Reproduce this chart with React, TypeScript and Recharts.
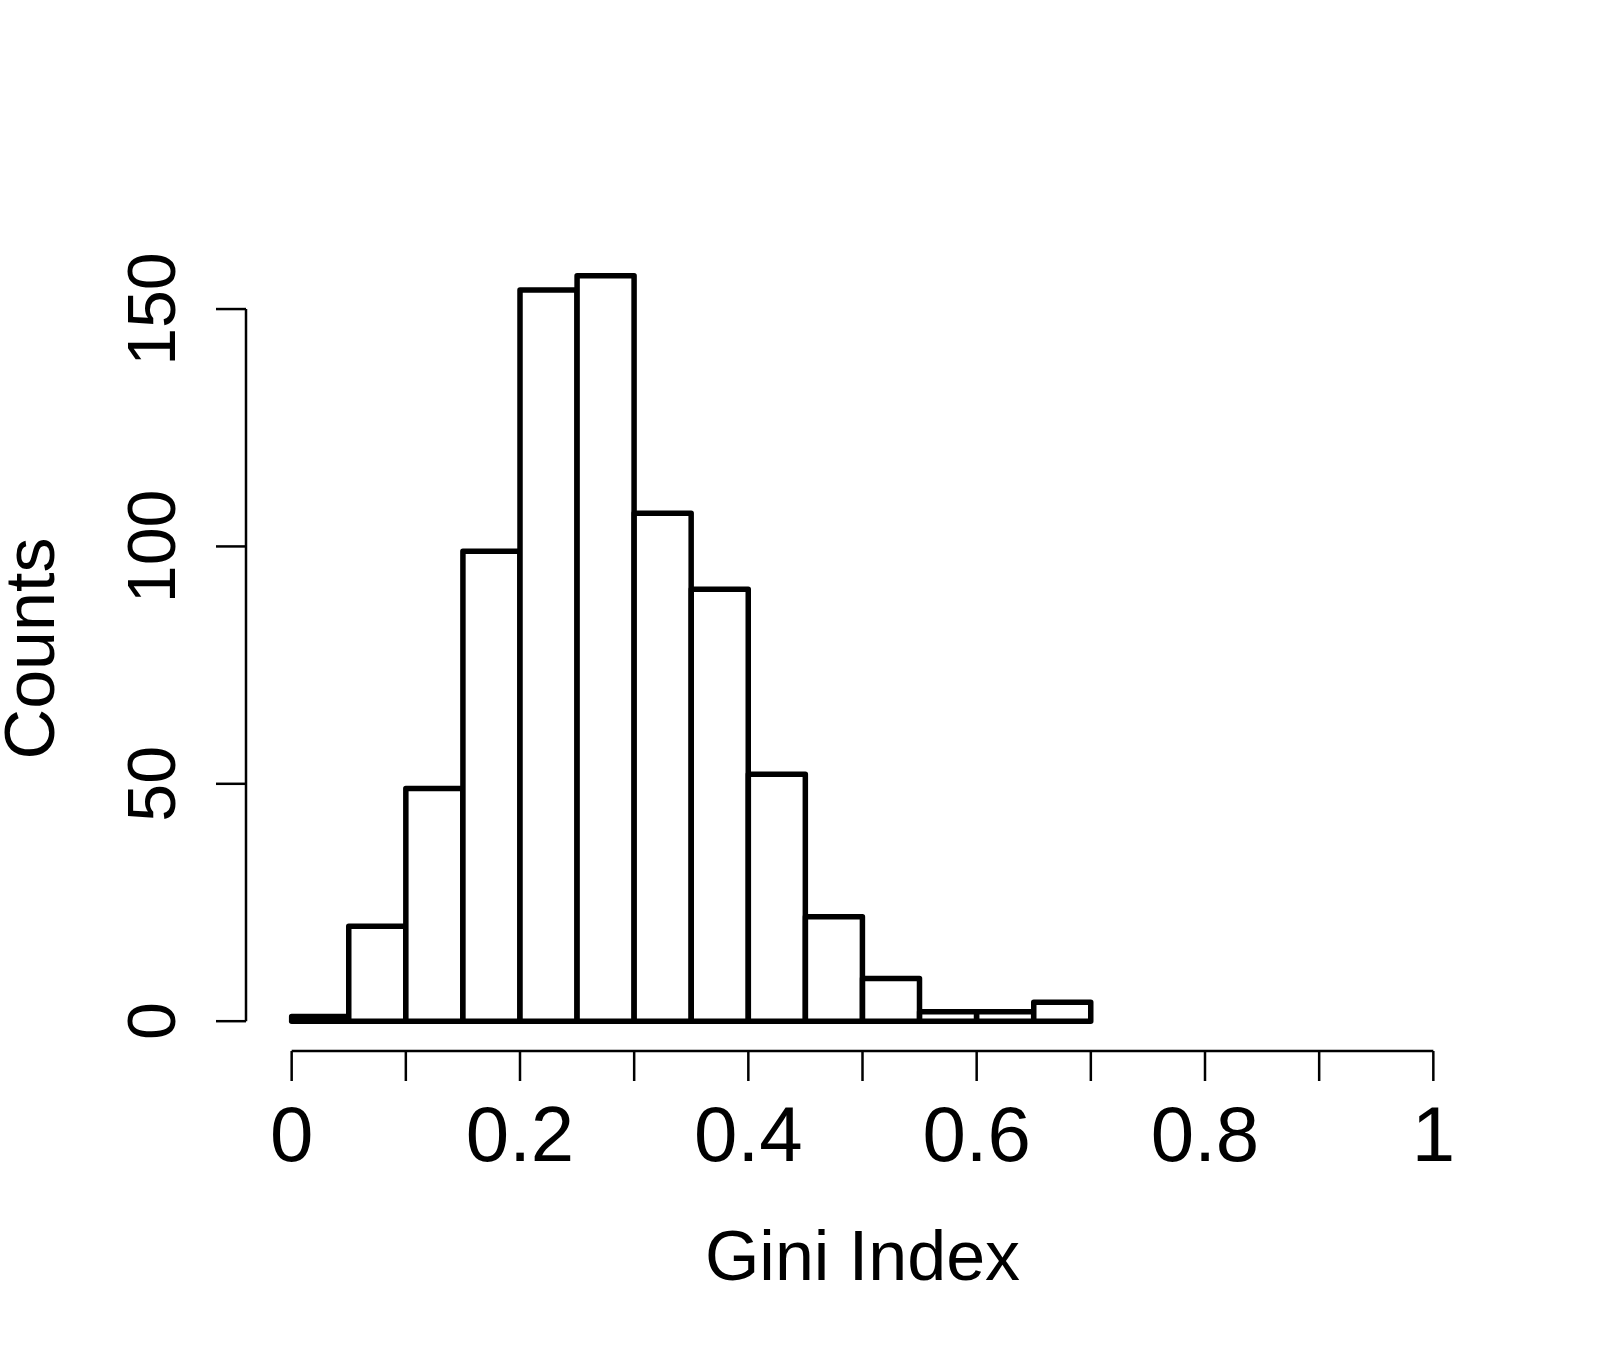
import { BarChart, Bar, XAxis, YAxis, ReferenceLine } from "recharts"

// histogram of the Gini index, bins of width 0.05
const binMids = [0.025, 0.075, 0.125, 0.175, 0.225, 0.275, 0.325, 0.375, 0.425, 0.475, 0.525, 0.575, 0.625, 0.675]
const counts = [1, 20, 49, 99, 154, 157, 107, 91, 52, 22, 9, 2, 2, 4]

const xTicks = [0, 0.1, 0.2, 0.3, 0.4, 0.5, 0.6, 0.7, 0.8, 0.9, 1]
const xTickLabels = ["0", "", "0.2", "", "0.4", "", "0.6", "", "0.8", "", "1"]
const yTicks = [0, 50, 100, 150]
const yTickLabels = ["0", "50", "100", "150"]

const data = binMids.map((mid, i) => ({ mid, count: counts[i] }))

// R pads the plot region by 4% on each side
const xPad = 0.04 * (xTicks[xTicks.length - 1] - xTicks[0])
const xDomain = [xTicks[0] - xPad, xTicks[xTicks.length - 1] + xPad]
const yMax = Math.max(...counts)
const yDomain = [-0.04 * yMax, yMax * 1.04]

const FONT = '"Liberation Sans", Arial, sans-serif'

function YTick(props: any) {
  const { x, y, index } = props
  return (
    <text
      x={x}
      y={y}
      transform={`rotate(-90, ${x}, ${y})`}
      textAnchor="middle"
      fontSize={68}
      fontFamily={FONT}
      fill="#000"
    >
      {yTickLabels[index]}
    </text>
  )
}

export default function App() {
  return (
    <div style={{ position: "absolute", left: 0, top: 0, width: 1606, height: 1358, background: "#fff" }}>
      <BarChart
        width={1606}
        height={1358}
        data={data}
        margin={{ top: 246, right: 127, left: 0, bottom: 0 }}
        barCategoryGap={0}
        barGap={0}
      >
        <XAxis
          type="number"
          dataKey="mid"
          domain={xDomain}
          allowDataOverflow
          ticks={xTicks}
          interval={0}
          height={307}
          axisLine={false}
          tickLine={{ stroke: "#000", strokeWidth: 2.5 }}
          tickSize={30}
          tickMargin={25}
          tickFormatter={(_v: number, i: number) => xTickLabels[i]}
          tick={{ fill: "#000", fontSize: 78, fontFamily: FONT }}
          label={(p: any) => (
            <text
              x={p.viewBox.x + p.viewBox.width / 2}
              y={p.viewBox.y + 229}
              textAnchor="middle"
              fontSize={70}
              fontFamily={FONT}
              fill="#000"
            >
              Gini Index
            </text>
          )}
        />
        <YAxis
          type="number"
          domain={yDomain}
          allowDataOverflow
          ticks={yTicks}
          interval={0}
          width={246}
          axisLine={false}
          tickLine={{ stroke: "#000", strokeWidth: 2.5 }}
          tickSize={30}
          tickMargin={41}
          tick={<YTick />}
          label={(p: any) => {
            const cx = 54
            const cy = p.viewBox.y + p.viewBox.height / 2
            return (
              <text
                x={cx}
                y={cy}
                transform={`rotate(-90, ${cx}, ${cy})`}
                textAnchor="middle"
                fontSize={70}
                fontFamily={FONT}
                fill="#000"
              >
                Counts
              </text>
            )
          }}
        />
        <Bar
          dataKey="count"
          fill="#fff"
          stroke="#000"
          strokeWidth={5.5}
          strokeLinejoin="round"
          strokeLinecap="round"
          isAnimationActive={false}
        />
        {/* axis lines only span the first to last tick, as in base R */}
        <ReferenceLine
          segment={[
            { x: xTicks[0], y: yDomain[0] },
            { x: xTicks[xTicks.length - 1], y: yDomain[0] },
          ]}
          stroke="#000"
          strokeWidth={2.5}
          ifOverflow="visible"
        />
        <ReferenceLine
          segment={[
            { x: xDomain[0], y: yTicks[0] },
            { x: xDomain[0], y: yTicks[yTicks.length - 1] },
          ]}
          stroke="#000"
          strokeWidth={2.5}
          ifOverflow="visible"
        />
      </BarChart>
    </div>
  )
}
